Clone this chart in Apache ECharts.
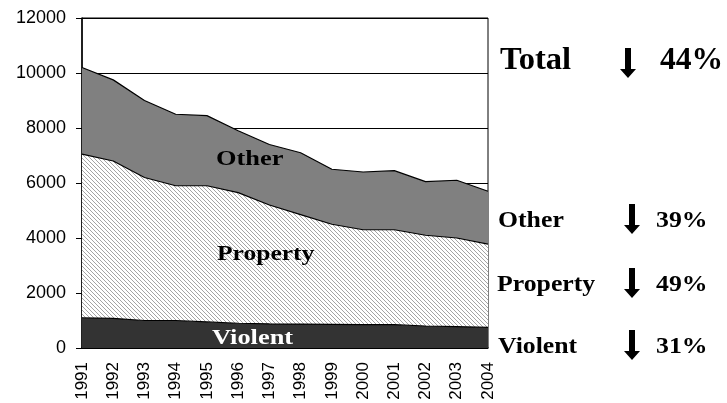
<!DOCTYPE html>
<html>
<head>
<meta charset="utf-8">
<script src="https://cdn.jsdelivr.net/npm/echarts@6/dist/echarts.min.js"></script>
<style>
  html, body { margin: 0; padding: 0; background: #fff; }
  #main { width: 727px; height: 403px; }
</style>
</head>
<body>
<div id="main"></div>
<script>
// years on the x axis
const years = ['1991', '1992', '1993', '1994', '1995', '1996', '1997',
  '1998', '1999', '2000', '2001', '2002', '2003', '2004'];
// stacked series
const violent = [1100, 1080, 1000, 1000, 950, 900, 880, 870, 860, 850, 850, 800, 780, 750];
const property = [5950, 5720, 5200, 4900, 4950, 4750, 4320, 3980, 3640, 3450, 3450, 3300, 3220, 3030];
const other = [3150, 2950, 2800, 2600, 2550, 2250, 2200, 2250, 2000, 2100, 2150, 1950, 2100, 1920];
// change summary on the right
const changeNames = ['Other', 'Property', 'Violent'];
const changePct = ['39%', '49%', '31%'];
const totalPct = '44%';

// diagonal hatch for the property band
function hatch() {
  const c = document.createElement('canvas');
  c.width = 4; c.height = 4;
  const g = c.getContext('2d');
  g.fillStyle = '#fff';
  g.fillRect(0, 0, 4, 4);
  g.strokeStyle = '#9a9a9a';
  g.lineWidth = 0.9;
  g.beginPath();
  g.moveTo(-1, -1); g.lineTo(5, 5);
  g.moveTo(-1, 3); g.lineTo(1, 5);
  g.moveTo(3, -1); g.lineTo(5, 1);
  g.stroke();
  return c;
}

// down arrow as polygon points, top centre at (x, y)
function arrow(x, y) {
  return {
    type: 'polygon', z: 100,
    shape: {
      points: [[x - 3, y], [x + 3, y], [x + 3, y + 21], [x + 8, y + 21],
        [x, y + 30], [x - 8, y + 21], [x - 3, y + 21]]
    },
    style: { fill: '#000' }
  };
}

const chart = echarts.init(document.getElementById('main'));

const serif = "'Liberation Serif', 'Times New Roman', serif";
// the source text is letter-spaced, so widen it a bit
const boldText = (x, y, text, size, sx, color) => ({
  type: 'text', x: x, y: y, scaleX: sx, z: 100,
  style: {
    text: text, fill: color || '#000', font: 'bold ' + size + 'px ' + serif,
    textVerticalAlign: 'middle'
  }
});

const graphics = [
  boldText(500, 61, 'Total', 31, 1.05),
  arrow(628, 48),
  boldText(660, 61, totalPct, 31, 1.02),
  boldText(216, 159, 'Other', 22, 1.2),
  boldText(217, 254, 'Property', 22, 1.16),
  boldText(212, 338, 'Violent', 22, 1.2, '#fff')
];
const rowY = [221, 285, 347];
const rowX = [498, 497, 498];
changeNames.forEach((n, i) => {
  graphics.push(boldText(rowX[i], rowY[i], n, 23, 1.12));
  graphics.push(arrow(632, rowY[i] - 17));
  graphics.push(boldText(656, rowY[i], changePct[i], 23, 1.12));
});

const lineStyle = { color: '#000', width: 1.2 };

chart.setOption({
  animation: false,
  backgroundColor: '#fff',
  grid: {
    left: 82, right: 239, top: 18, bottom: 55,
    show: true, borderColor: '#000', borderWidth: 1
  },
  xAxis: {
    type: 'category',
    data: years,
    boundaryGap: false,
    axisLine: { lineStyle: { color: '#000', width: 1.5 } },
    axisTick: { show: false },
    axisLabel: {
      rotate: 90, margin: 14, color: '#000', fontSize: 17,
      fontFamily: "'Liberation Sans', Arial, sans-serif", interval: 0
    }
  },
  yAxis: {
    type: 'value',
    min: 0, max: 12000, interval: 2000,
    axisLine: { show: true, lineStyle: { color: '#000', width: 1.5 } },
    axisTick: { show: true, length: 6, lineStyle: { color: '#000' } },
    axisLabel: {
      margin: 16, color: '#000', fontSize: 18,
      fontFamily: "'Liberation Sans', Arial, sans-serif",
      formatter: v => String(v)
    },
    splitLine: { lineStyle: { color: '#000', width: 1 } }
  },
  series: [
    {
      name: 'Violent', type: 'line', stack: 'all', data: violent,
      showSymbol: false, lineStyle: lineStyle,
      areaStyle: { color: '#333333', opacity: 1 }
    },
    {
      name: 'Property', type: 'line', stack: 'all', data: property,
      showSymbol: false, lineStyle: lineStyle,
      areaStyle: { color: { image: hatch(), repeat: 'repeat' }, opacity: 1 }
    },
    {
      name: 'Other', type: 'line', stack: 'all', data: other,
      showSymbol: false, lineStyle: lineStyle,
      areaStyle: { color: '#808080', opacity: 1 }
    }
  ],
  graphic: graphics
});
</script>
</body>
</html>
